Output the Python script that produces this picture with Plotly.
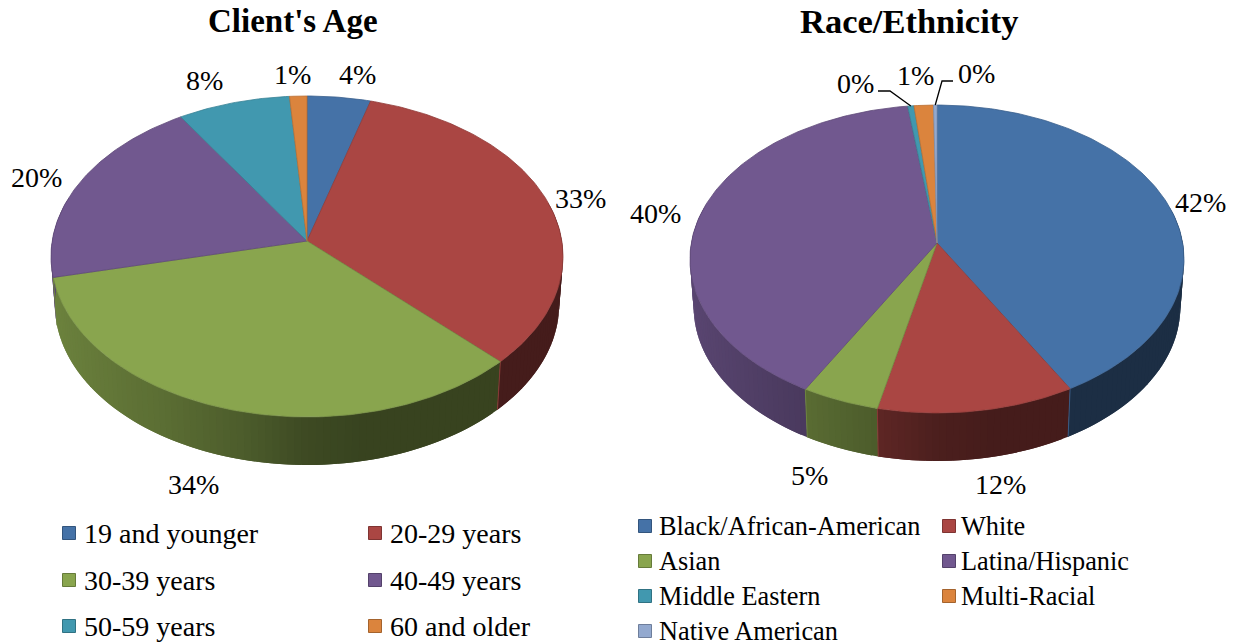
import numpy as np
import plotly.graph_objects as go

# ---- data ----
age_categories = ["19 and younger", "20-29 years", "30-39 years", "40-49 years", "50-59 years", "60 and older"]
age_values = [4.4, 33.1, 33.9, 19.6, 7.8, 1.2]
race_categories = ["Black/African-American", "White", "Asian", "Latina/Hispanic",
                   "Middle Eastern", "Multi-Racial", "Native American"]
race_values = [41.8, 11.7, 4.6, 39.8, 0.45, 1.4, 0.25]
colors = ["#4572A7", "#AA4643", "#89A54E", "#71588F", "#4198AF", "#DB843D", "#93A9CF"]

FONT = "Liberation Serif"
LABEL_SIZE = 28

# ---- geometry of each tilted disc (apex, radii, perspective) ----
GEO_AGE = dict(cx=307, cy=241, R=254.8, S=159, k=0.0966, depth=48, inset=0.985)
GEO_RACE = dict(cx=937, cy=243, R=245.7, S=152.3, k=0.104, depth=48, inset=0.985)


def project(theta, g, lower=False):
    X, Y = np.sin(theta), np.cos(theta)
    w = 1 + g["k"] * Y
    x, y = g["R"] * X / w, -g["S"] * Y / w
    if lower:
        return g["cx"] + x * g["inset"], g["cy"] + y + g["depth"]
    return g["cx"] + x, g["cy"] + y


def shade(hex_color, theta):
    f = float(np.interp(np.sin(theta), [-1, -0.5, -0.25, 0, 0.2, 1], [0.8, 0.66, 0.57, 0.45, 0.41, 0.41]))
    rgb = [int(hex_color[i:i + 2], 16) for i in (1, 3, 5)]
    return "rgb({},{},{})".format(*[int(c * f) for c in rgb])


def darker(hex_color, f=0.85):
    rgb = [int(hex_color[i:i + 2], 16) for i in (1, 3, 5)]
    return "rgb({},{},{})".format(*[int(c * f) for c in rgb])


fig = go.Figure()


def add_pie(values, g):
    total = sum(values)
    edges = 2 * np.pi * np.concatenate([[0], np.cumsum(values)]) / total
    # side wall: overlapping strips, painted in order, so no seams show
    for i in range(len(values)):
        a0, a1 = edges[i], edges[i + 1]
        n = max(2, int(np.degrees(a1 - a0) / 1.5) + 1)
        ts = np.linspace(a0, a1, n + 1)
        for j in range(n):
            a, b = ts[j], ts[j + 1]
            if np.cos((a + b) / 2) > 0.25:
                continue
            arc = np.linspace(a, ts[min(j + 2, n)], 4)
            xt, yt = project(arc, g)
            xb, yb = project(arc[::-1], g, lower=True)
            col = shade(colors[i], (a + b) / 2)
            fig.add_trace(go.Scatter(x=np.r_[xt, xb], y=np.r_[yt, yb], mode="lines", fill="toself",
                                     fillcolor=col, line=dict(width=0), hoverinfo="skip"))
    # seams between wall segments
    for i in range(len(values)):
        t = edges[i + 1]
        if np.cos(t) < 0 and values[i] > 2:
            xt, yt = project(np.array([t]), g)
            xb, yb = project(np.array([t]), g, lower=True)
            fig.add_trace(go.Scatter(x=np.r_[xt, xb], y=np.r_[yt, yb], mode="lines",
                                     line=dict(color=darker(colors[i], 0.8), width=1), hoverinfo="skip"))
    # top surface
    for i in range(len(values)):
        arc = np.linspace(edges[i], edges[i + 1], max(3, int(np.degrees(edges[i + 1] - edges[i])) + 2))
        xs, ys = project(arc, g)
        fig.add_trace(go.Scatter(x=np.r_[g["cx"], xs, g["cx"]], y=np.r_[g["cy"], ys, g["cy"]],
                                 mode="lines", fill="toself", fillcolor=colors[i],
                                 line=dict(color=darker(colors[i]), width=0.8), hoverinfo="skip"))
    return edges


edges_age = add_pie(age_values, GEO_AGE)
edges_race = add_pie(race_values, GEO_RACE)

annotations = []


def text(x, y, s, size=LABEL_SIZE, bold=False, anchor="center"):
    annotations.append(dict(x=x, y=y, xref="x", yref="y", text=f"<b>{s}</b>" if bold else s, showarrow=False,
                            xanchor=anchor, yanchor="middle",
                            font=dict(family=FONT, size=size, color="#000000")))


text(293, 21, "Client's Age", 33, True)
text(909, 21, "Race/Ethnicity", 34.5, True)

age_label_pos = [(357, 74), (580, 198), (193, 484), (36, 177), (204, 80), (292, 74)]
race_label_pos = [(1200, 202), (1000, 484), (809, 475), (655, 213), (855, 83), (915, 75), (976, 73)]
for v, (x, y) in zip(age_values, age_label_pos):
    text(x, y, f"{round(v)}%")
for v, (x, y) in zip(race_values, race_label_pos):
    text(x, y, f"{round(v)}%")

# leader lines for the tiny race slices
for idx, (sx, mx, sy) in {4: (878, 890, 91), 6: (953, 942, 81)}.items():
    mid = np.array([(edges_race[idx] + edges_race[idx + 1]) / 2])
    ex, ey = project(mid, GEO_RACE)
    fig.add_trace(go.Scatter(x=[sx, mx, ex[0]], y=[sy, sy, ey[0]], mode="lines",
                             line=dict(color="#000000", width=1.3), hoverinfo="skip"))


# legends
def legend(cats, col_x, row_y, size, font_size, gaps):
    for i, c in enumerate(cats):
        col, row = i % 2, i // 2
        x, y = col_x[col], row_y[row]
        fig.add_trace(go.Scatter(x=[x], y=[y], mode="markers", hoverinfo="skip",
                                 marker=dict(symbol="square", size=size, color=colors[i],
                                             line=dict(color=darker(colors[i], 0.75), width=1))))
        text(x + gaps[col], y, c, size=font_size, anchor="left")


legend(age_categories, [69, 375], [533, 580, 626], 13, 28, [13, 13])
legend(race_categories, [645, 949], [526, 561, 596, 631], 13, 26.3, [12, 10])

fig.update_layout(
    width=1236, height=643, margin=dict(l=0, r=0, t=0, b=0), showlegend=False,
    paper_bgcolor="white", plot_bgcolor="white", annotations=annotations,
    xaxis=dict(range=[0, 1236], visible=False, fixedrange=True),
    yaxis=dict(range=[643, 0], visible=False, fixedrange=True),
)
fig.write_html("out.html", config={"displayModeBar": False},
               post_script="document.body.style.margin='0';document.body.style.overflow='hidden';")
